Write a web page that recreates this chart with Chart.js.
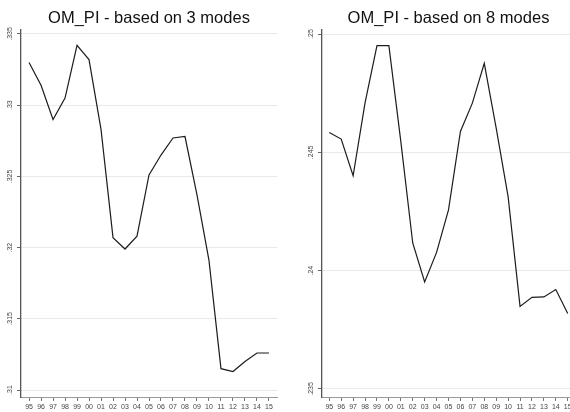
<!DOCTYPE html>
<html>
<head>
<meta charset="utf-8">
<script src="https://cdn.jsdelivr.net/npm/chart.js@4/dist/chart.umd.min.js"></script>
<style>
  html, body { margin: 0; padding: 0; background: #fff; overflow: hidden; }
  body { width: 570px; height: 412px; position: relative; }
  .panel { position: absolute; top: 0; height: 412px; }
</style>
</head>
<body>
<div class="panel" style="left:0; width:285px;"><canvas id="chart3"></canvas></div>
<div class="panel" style="left:285px; width:300px;"><canvas id="chart8"></canvas></div>
<script>
// x categories (years)
const years = ['95', '96', '97', '98', '99', '00', '01', '02', '03', '04', '05',
               '06', '07', '08', '09', '10', '11', '12', '13', '14', '15'];

// OM_PI based on 3 modes
const om3 = [0.3330, 0.3314, 0.3290, 0.3305, 0.3342, 0.3332, 0.3283, 0.3207, 0.3199, 0.3208, 0.3251,
             0.3265, 0.3277, 0.3278, 0.3237, 0.3191, 0.3115, 0.3113, 0.3120, 0.3126, 0.3126];

// OM_PI based on 8 modes
const om8 = [0.24584, 0.24556, 0.24401, 0.24709, 0.24951, 0.24951, 0.24546, 0.24117, 0.23952, 0.24077, 0.24257,
             0.24588, 0.24708, 0.24876, 0.24602, 0.24313, 0.23849, 0.23887, 0.23889, 0.23920, 0.23819];

const titles = ['OM_PI - based on 3 modes', 'OM_PI - based on 8 modes'];

// title centered over the plot area
const plotTitle = {
    id: 'plotTitle',
    afterDraw(chart, args, opts) {
        const ctx = chart.ctx;
        const area = chart.chartArea;
        ctx.save();
        ctx.font = '16.5px "Liberation Sans", Arial, sans-serif';
        ctx.fillStyle = '#111';
        ctx.textAlign = 'center';
        ctx.textBaseline = 'alphabetic';
        ctx.fillText(opts.text, (area.left + area.right) / 2, 23);
        ctx.restore();
    }
};

function yLabel(v) {
    return v.toFixed(3).replace(/^0/, '').replace(/0+$/, '');
}

function createChart(id, values, title, yMin, yMax, xMin, xMax, axisWidth, padRight) {
    const ctx = document.getElementById(id).getContext('2d');
    return new Chart(ctx, {
        type: 'line',
        data: {
            datasets: [{
                data: values.map((v, i) => ({ x: i, y: v })),
                borderColor: '#1c1c1c',
                borderWidth: 1.2,
                pointRadius: 0,
                tension: 0,
                fill: false,
            }],
        },
        options: {
            responsive: true,
            maintainAspectRatio: false,
            animation: false,
            layout: { padding: { top: 30, right: padRight, bottom: 0, left: 0 } },
            plugins: {
                legend: { display: false },
                tooltip: { enabled: false },
                plotTitle: { text: title },
            },
            scales: {
                x: {
                    type: 'linear',
                    min: xMin,
                    max: xMax,
                    grid: { drawOnChartArea: false, drawTicks: true, tickLength: 4, tickColor: '#777' },
                    border: { color: '#999', width: 1 },
                    ticks: {
                        stepSize: 1,
                        includeBounds: false,
                        autoSkip: false,
                        maxRotation: 0,
                        padding: 2,
                        color: '#444',
                        font: { family: '"Liberation Sans", Arial, sans-serif', size: 7 },
                        callback: v => years[v],
                    },
                    afterFit: s => { s.height = 15; },
                },
                y: {
                    min: yMin,
                    max: yMax,
                    grid: { color: '#e9e9e9', lineWidth: 1, tickLength: 4, tickColor: '#666' },
                    border: { color: '#555', width: 1.3 },
                    ticks: {
                        stepSize: 0.005,
                        includeBounds: false,
                        minRotation: 90,
                        maxRotation: 90,
                        crossAlign: 'center',
                        padding: 0,
                        color: '#444',
                        font: { family: '"Liberation Sans", Arial, sans-serif', size: 7 },
                        callback: v => yLabel(v),
                    },
                    afterFit: s => { s.width = axisWidth; },
                },
            },
        },
        plugins: [plotTitle],
    });
}

createChart('chart3', om3, titles[0], 0.30951, 0.33528, -0.67, 20.67, 21, 8);
createChart('chart8', om8, titles[1], 0.23466, 0.25017, -0.61, 20.61, 37, 10);
</script>
</body>
</html>
